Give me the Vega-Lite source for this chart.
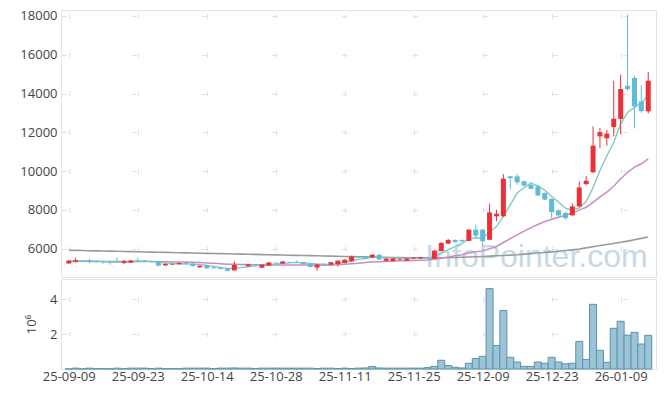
{
 "$schema": "https://vega.github.io/schema/vega-lite/v6.json",
 "padding": {"left": 19, "top": 9, "right": 5, "bottom": 5},
 "spacing": 0,
 "config": {
  "font": "Open Sans",
  "view": {"stroke": "#e3e3e3"},
  "axis": {"labelFont": "Open Sans", "labelFontSize": 13, "labelColor": "#444444", "domain": false, "ticks": false, "gridColor": "#e0e0e0", "titleFont": "Open Sans", "titleColor": "#444444", "titleFontWeight": "normal", "titleFontSize": 13}
 },
 "datasets": {
  "k": [
   {"i":0,"d":"2025-09-09","o":5240,"h":5420,"l":5200,"c":5380,"v":0.01,"m5":5356,"m20":5342,"m120":5920},
   {"i":1,"d":"2025-09-10","o":5320,"h":5540,"l":5300,"c":5400,"v":0.05,"m5":5366,"m20":5345,"m120":5912},
   {"i":2,"d":"2025-09-11","o":5380,"h":5400,"l":5330,"c":5350,"v":0.01,"m5":5366,"m20":5346,"m120":5904},
   {"i":3,"d":"2025-09-12","o":5400,"h":5480,"l":5240,"c":5330,"v":0.05,"m5":5362,"m20":5345,"m120":5896},
   {"i":4,"d":"2025-09-15","o":5360,"h":5380,"l":5300,"c":5320,"v":0.02,"m5":5356,"m20":5344,"m120":5888},
   {"i":5,"d":"2025-09-16","o":5330,"h":5350,"l":5230,"c":5300,"v":0.02,"m5":5340,"m20":5342,"m120":5880},
   {"i":6,"d":"2025-09-17","o":5330,"h":5360,"l":5180,"c":5280,"v":0.01,"m5":5316,"m20":5339,"m120":5872},
   {"i":7,"d":"2025-09-18","o":5340,"h":5540,"l":5280,"c":5320,"v":0.05,"m5":5310,"m20":5338,"m120":5864},
   {"i":8,"d":"2025-09-19","o":5270,"h":5420,"l":5210,"c":5360,"v":0.02,"m5":5316,"m20":5339,"m120":5856},
   {"i":9,"d":"2025-09-22","o":5280,"h":5410,"l":5260,"c":5390,"v":0.05,"m5":5330,"m20":5342,"m120":5848},
   {"i":10,"d":"2025-09-23","o":5400,"h":5540,"l":5340,"c":5360,"v":0.05,"m5":5342,"m20":5343,"m120":5840},
   {"i":11,"d":"2025-09-24","o":5380,"h":5400,"l":5300,"c":5320,"v":0.05,"m5":5350,"m20":5342,"m120":5832},
   {"i":12,"d":"2025-09-25","o":5330,"h":5350,"l":5290,"c":5310,"v":0.02,"m5":5348,"m20":5340,"m120":5824},
   {"i":13,"d":"2025-09-26","o":5310,"h":5330,"l":5100,"c":5120,"v":0.05,"m5":5300,"m20":5329,"m120":5816},
   {"i":14,"d":"2025-09-29","o":5140,"h":5240,"l":5100,"c":5220,"v":0.02,"m5":5266,"m20":5323,"m120":5808},
   {"i":15,"d":"2025-09-30","o":5180,"h":5230,"l":5170,"c":5210,"v":0.02,"m5":5236,"m20":5317,"m120":5800},
   {"i":16,"d":"2025-10-01","o":5200,"h":5290,"l":5180,"c":5260,"v":0.01,"m5":5224,"m20":5313,"m120":5792},
   {"i":17,"d":"2025-10-02","o":5280,"h":5300,"l":5200,"c":5220,"v":0.05,"m5":5206,"m20":5307,"m120":5784},
   {"i":18,"d":"2025-10-10","o":5230,"h":5250,"l":5080,"c":5100,"v":0.05,"m5":5202,"m20":5295,"m120":5776},
   {"i":19,"d":"2025-10-13","o":5040,"h":5150,"l":5020,"c":5120,"v":0.05,"m5":5182,"m20":5284,"m120":5768},
   {"i":20,"d":"2025-10-14","o":5150,"h":5170,"l":4970,"c":4990,"v":0.05,"m5":5138,"m20":5264,"m120":5760},
   {"i":21,"d":"2025-10-15","o":5030,"h":5060,"l":4950,"c":4990,"v":0.02,"m5":5084,"m20":5244,"m120":5752},
   {"i":22,"d":"2025-10-16","o":5000,"h":5020,"l":4920,"c":4960,"v":0.05,"m5":5032,"m20":5224,"m120":5744},
   {"i":23,"d":"2025-10-17","o":4970,"h":4990,"l":4830,"c":4860,"v":0.05,"m5":4984,"m20":5201,"m120":5736},
   {"i":24,"d":"2025-10-20","o":4880,"h":5350,"l":4870,"c":5160,"v":0.06,"m5":4992,"m20":5193,"m120":5728},
   {"i":25,"d":"2025-10-21","o":5180,"h":5200,"l":5130,"c":5160,"v":0.05,"m5":5026,"m20":5186,"m120":5720},
   {"i":26,"d":"2025-10-22","o":5100,"h":5210,"l":5080,"c":5190,"v":0.05,"m5":5066,"m20":5181,"m120":5712},
   {"i":27,"d":"2025-10-23","o":5180,"h":5200,"l":5120,"c":5150,"v":0.03,"m5":5104,"m20":5173,"m120":5704},
   {"i":28,"d":"2025-10-24","o":5020,"h":5200,"l":5000,"c":5180,"v":0.05,"m5":5168,"m20":5164,"m120":5696},
   {"i":29,"d":"2025-10-27","o":5130,"h":5310,"l":5110,"c":5290,"v":0.05,"m5":5194,"m20":5159,"m120":5688},
   {"i":30,"d":"2025-10-28","o":5280,"h":5300,"l":5230,"c":5250,"v":0.05,"m5":5212,"m20":5153,"m120":5680},
   {"i":31,"d":"2025-10-29","o":5230,"h":5360,"l":5220,"c":5340,"v":0.05,"m5":5242,"m20":5154,"m120":5672},
   {"i":32,"d":"2025-10-30","o":5310,"h":5340,"l":5270,"c":5290,"v":0.05,"m5":5270,"m20":5153,"m120":5664},
   {"i":33,"d":"2025-10-31","o":5320,"h":5380,"l":5290,"c":5310,"v":0.05,"m5":5296,"m20":5163,"m120":5656},
   {"i":34,"d":"2025-11-03","o":5300,"h":5320,"l":5180,"c":5200,"v":0.05,"m5":5278,"m20":5162,"m120":5648},
   {"i":35,"d":"2025-11-04","o":5230,"h":5240,"l":5040,"c":5060,"v":0.05,"m5":5240,"m20":5154,"m120":5640},
   {"i":36,"d":"2025-11-05","o":5030,"h":5210,"l":4860,"c":5190,"v":0.03,"m5":5210,"m20":5151,"m120":5632},
   {"i":37,"d":"2025-11-06","o":5220,"h":5240,"l":5170,"c":5190,"v":0.05,"m5":5190,"m20":5149,"m120":5624},
   {"i":38,"d":"2025-11-07","o":5170,"h":5320,"l":5150,"c":5300,"v":0.05,"m5":5188,"m20":5159,"m120":5616},
   {"i":39,"d":"2025-11-10","o":5210,"h":5400,"l":5090,"c":5380,"v":0.02,"m5":5224,"m20":5172,"m120":5608},
   {"i":40,"d":"2025-11-11","o":5260,"h":5460,"l":5240,"c":5430,"v":0.05,"m5":5298,"m20":5194,"m120":5600},
   {"i":41,"d":"2025-11-12","o":5350,"h":5640,"l":5330,"c":5600,"v":0.03,"m5":5380,"m20":5225,"m120":5592},
   {"i":42,"d":"2025-11-13","o":5570,"h":5600,"l":5520,"c":5540,"v":0.05,"m5":5450,"m20":5254,"m120":5584},
   {"i":43,"d":"2025-11-14","o":5620,"h":5640,"l":5500,"c":5520,"v":0.06,"m5":5494,"m20":5287,"m120":5576},
   {"i":44,"d":"2025-11-17","o":5550,"h":5720,"l":5530,"c":5690,"v":0.14,"m5":5556,"m20":5313,"m120":5568},
   {"i":45,"d":"2025-11-18","o":5690,"h":5700,"l":5420,"c":5440,"v":0.06,"m5":5558,"m20":5327,"m120":5560},
   {"i":46,"d":"2025-11-19","o":5370,"h":5530,"l":5350,"c":5480,"v":0.05,"m5":5534,"m20":5342,"m120":5552},
   {"i":47,"d":"2025-11-20","o":5360,"h":5520,"l":5330,"c":5500,"v":0.05,"m5":5526,"m20":5359,"m120":5546},
   {"i":48,"d":"2025-11-21","o":5430,"h":5500,"l":5410,"c":5460,"v":0.05,"m5":5514,"m20":5373,"m120":5540},
   {"i":49,"d":"2025-11-24","o":5390,"h":5510,"l":5370,"c":5480,"v":0.05,"m5":5472,"m20":5383,"m120":5535},
   {"i":50,"d":"2025-11-25","o":5500,"h":5580,"l":5480,"c":5540,"v":0.05,"m5":5492,"m20":5397,"m120":5530},
   {"i":51,"d":"2025-11-26","o":5500,"h":5580,"l":5480,"c":5560,"v":0.05,"m5":5508,"m20":5408,"m120":5527},
   {"i":52,"d":"2025-11-27","o":5560,"h":5580,"l":5500,"c":5520,"v":0.08,"m5":5512,"m20":5420,"m120":5525},
   {"i":53,"d":"2025-11-28","o":5480,"h":5930,"l":5460,"c":5900,"v":0.15,"m5":5600,"m20":5449,"m120":5525},
   {"i":54,"d":"2025-12-01","o":5880,"h":6330,"l":5860,"c":6300,"v":0.5,"m5":5764,"m20":5504,"m120":5530},
   {"i":55,"d":"2025-12-02","o":6260,"h":6500,"l":6240,"c":6450,"v":0.2,"m5":5946,"m20":5574,"m120":5535},
   {"i":56,"d":"2025-12-03","o":6450,"h":6480,"l":6300,"c":6340,"v":0.1,"m5":6102,"m20":5631,"m120":5545},
   {"i":57,"d":"2025-12-04","o":6450,"h":6470,"l":6350,"c":6380,"v":0.06,"m5":6274,"m20":5691,"m120":5555},
   {"i":58,"d":"2025-12-05","o":6400,"h":7000,"l":6380,"c":6980,"v":0.33,"m5":6490,"m20":5775,"m120":5570},
   {"i":59,"d":"2025-12-08","o":6980,"h":7240,"l":6550,"c":6670,"v":0.6,"m5":6564,"m20":5839,"m120":5585},
   {"i":60,"d":"2025-12-09","o":6980,"h":7030,"l":6150,"c":6380,"v":0.73,"m5":6550,"m20":5887,"m120":5600},
   {"i":61,"d":"2025-12-10","o":6460,"h":8320,"l":6430,"c":7870,"v":4.6,"m5":6856,"m20":6000,"m120":5615},
   {"i":62,"d":"2025-12-11","o":7670,"h":8010,"l":7410,"c":7800,"v":1.35,"m5":7140,"m20":6113,"m120":5632},
   {"i":63,"d":"2025-12-12","o":7670,"h":9850,"l":7650,"c":9610,"v":3.35,"m5":7666,"m20":6318,"m120":5650},
   {"i":64,"d":"2025-12-15","o":9730,"h":9760,"l":9050,"c":9640,"v":0.67,"m5":8260,"m20":6515,"m120":5670},
   {"i":65,"d":"2025-12-16","o":9730,"h":9850,"l":9300,"c":9420,"v":0.4,"m5":8868,"m20":6714,"m120":5690},
   {"i":66,"d":"2025-12-17","o":9470,"h":9520,"l":9210,"c":9250,"v":0.15,"m5":9144,"m20":6903,"m120":5718},
   {"i":67,"d":"2025-12-18","o":9300,"h":9330,"l":9050,"c":9090,"v":0.15,"m5":9402,"m20":7082,"m120":5746},
   {"i":68,"d":"2025-12-19","o":9210,"h":9300,"l":8700,"c":8750,"v":0.4,"m5":9230,"m20":7247,"m120":5774},
   {"i":69,"d":"2025-12-22","o":8870,"h":8900,"l":8500,"c":8530,"v":0.33,"m5":9008,"m20":7399,"m120":5805},
   {"i":70,"d":"2025-12-23","o":8560,"h":8600,"l":7550,"c":7890,"v":0.67,"m5":8702,"m20":7517,"m120":5836},
   {"i":71,"d":"2025-12-24","o":7970,"h":8030,"l":7650,"c":7720,"v":0.4,"m5":8396,"m20":7625,"m120":5870},
   {"i":72,"d":"2025-12-26","o":7840,"h":7900,"l":7500,"c":7580,"v":0.3,"m5":8094,"m20":7728,"m120":5905},
   {"i":73,"d":"2025-12-29","o":7720,"h":8330,"l":7700,"c":8180,"v":0.33,"m5":7980,"m20":7842,"m120":5940},
   {"i":74,"d":"2025-12-30","o":8180,"h":9450,"l":8160,"c":9160,"v":1.58,"m5":8106,"m20":7985,"m120":5980},
   {"i":75,"d":"2026-01-02","o":9330,"h":9740,"l":9280,"c":9500,"v":0.55,"m5":8428,"m20":8137,"m120":6040},
   {"i":76,"d":"2026-01-05","o":9940,"h":12300,"l":9900,"c":11310,"v":3.7,"m5":9146,"m20":8386,"m120":6100},
   {"i":77,"d":"2026-01-06","o":11790,"h":12220,"l":11190,"c":12010,"v":1.07,"m5":10032,"m20":8667,"m120":6160},
   {"i":78,"d":"2026-01-07","o":11690,"h":12130,"l":11310,"c":11930,"v":0.38,"m5":10782,"m20":8915,"m120":6215},
   {"i":79,"d":"2026-01-08","o":12270,"h":14660,"l":11790,"c":12700,"v":2.33,"m5":11490,"m20":9216,"m120":6270},
   {"i":80,"d":"2026-01-09","o":12690,"h":14970,"l":11900,"c":14230,"v":2.73,"m5":12436,"m20":9609,"m120":6330},
   {"i":81,"d":"2026-01-12","o":14400,"h":18060,"l":14140,"c":14230,"v":1.93,"m5":13020,"m20":9927,"m120":6390},
   {"i":82,"d":"2026-01-13","o":14800,"h":14920,"l":12200,"c":13340,"v":2.1,"m5":13286,"m20":10204,"m120":6460},
   {"i":83,"d":"2026-01-14","o":13600,"h":14420,"l":13000,"c":13090,"v":1.43,"m5":13518,"m20":10378,"m120":6530},
   {"i":84,"d":"2026-01-15","o":13080,"h":15110,"l":12970,"c":14660,"v":1.93,"m5":13910,"m20":10628,"m120":6600}
  ]
 },
 "vconcat": [
  {
   "width": 595,
   "height": 267,
   "data": {"name": "k"},
   "layer": [
    {
     "data": {"values": [{"t": "InfoPointer.com"}]},
     "mark": {"type": "text", "fontSize": 32, "font": "Liberation Sans", "fill": "#b3cddb", "opacity": 0.75, "align": "center", "baseline": "alphabetic"},
     "encoding": {
      "text": {"field": "t"},
      "x": {"datum": 67.8, "type": "quantitative", "scale": {"domain": [-0.4, 84.4], "nice": false, "zero": false}, "axis": {"title": null, "labels": false, "grid": true, "values": [0,10,20,30,40,50,60,70,80], "gridDash": [5, 33.79], "gridDashOffset": 35.39}},
      "y": {"datum": 5031, "type": "quantitative", "scale": {"domain": [4540, 18305], "nice": false, "zero": false}, "axis": {"title": null, "format": "d", "values": [6000,8000,10000,12000,14000,16000,18000], "grid": true, "labelPadding": 4, "gridDash": [5, 65.17], "gridDashOffset": 69.86}}
     }
    },
    {
     "mark": {"type": "line", "color": "#9a9a9a", "strokeWidth": 1.6},
     "encoding": {
      "x": {"field": "i", "type": "quantitative", "scale": {"domain": [-0.4, 84.4], "nice": false, "zero": false}, "axis": {"title": null, "labels": false, "grid": true, "values": [0,10,20,30,40,50,60,70,80], "gridDash": [5, 33.79], "gridDashOffset": 35.39}},
      "y": {"field": "m120", "type": "quantitative", "scale": {"domain": [4540, 18305], "nice": false, "zero": false}, "axis": {"title": null, "format": "d", "values": [6000,8000,10000,12000,14000,16000,18000], "grid": true, "labelPadding": 4, "gridDash": [5, 65.17], "gridDashOffset": 69.86}}
     }
    },
    {
     "mark": {"type": "line", "color": "#c98cc6", "strokeWidth": 1.5},
     "encoding": {
      "x": {"field": "i", "type": "quantitative", "scale": {"domain": [-0.4, 84.4], "nice": false, "zero": false}, "axis": {"title": null, "labels": false, "grid": true, "values": [0,10,20,30,40,50,60,70,80], "gridDash": [5, 33.79], "gridDashOffset": 35.39}},
      "y": {"field": "m20", "type": "quantitative", "scale": {"domain": [4540, 18305], "nice": false, "zero": false}, "axis": {"title": null, "format": "d", "values": [6000,8000,10000,12000,14000,16000,18000], "grid": true, "labelPadding": 4, "gridDash": [5, 65.17], "gridDashOffset": 69.86}}
     }
    },
    {
     "mark": {"type": "line", "color": "#84c9c0", "strokeWidth": 1.4},
     "encoding": {
      "x": {"field": "i", "type": "quantitative", "scale": {"domain": [-0.4, 84.4], "nice": false, "zero": false}, "axis": {"title": null, "labels": false, "grid": true, "values": [0,10,20,30,40,50,60,70,80], "gridDash": [5, 33.79], "gridDashOffset": 35.39}},
      "y": {"field": "m5", "type": "quantitative", "scale": {"domain": [4540, 18305], "nice": false, "zero": false}, "axis": {"title": null, "format": "d", "values": [6000,8000,10000,12000,14000,16000,18000], "grid": true, "labelPadding": 4, "gridDash": [5, 65.17], "gridDashOffset": 69.86}}
     }
    },
    {
     "mark": {"type": "rule", "strokeWidth": 1},
     "encoding": {
      "x": {"field": "i", "type": "quantitative", "scale": {"domain": [-0.4, 84.4], "nice": false, "zero": false}, "axis": {"title": null, "labels": false, "grid": true, "values": [0,10,20,30,40,50,60,70,80], "gridDash": [5, 33.79], "gridDashOffset": 35.39}},
      "y": {"field": "l", "type": "quantitative", "scale": {"domain": [4540, 18305], "nice": false, "zero": false}, "axis": {"title": null, "format": "d", "values": [6000,8000,10000,12000,14000,16000,18000], "grid": true, "labelPadding": 4, "gridDash": [5, 65.17], "gridDashOffset": 69.86}},
      "y2": {"field": "h"},
      "color": {"condition": {"test": "datum.c >= datum.o", "value": "#ec3038"}, "value": "#5dbbd6"}
     }
    },
    {
     "mark": {"type": "bar", "size": 5},
     "encoding": {
      "x": {"field": "i", "type": "quantitative", "scale": {"domain": [-0.4, 84.4], "nice": false, "zero": false}, "axis": {"title": null, "labels": false, "grid": true, "values": [0,10,20,30,40,50,60,70,80], "gridDash": [5, 33.79], "gridDashOffset": 35.39}},
      "y": {"field": "o", "type": "quantitative", "scale": {"domain": [4540, 18305], "nice": false, "zero": false}, "axis": {"title": null, "format": "d", "values": [6000,8000,10000,12000,14000,16000,18000], "grid": true, "labelPadding": 4, "gridDash": [5, 65.17], "gridDashOffset": 69.86}},
      "y2": {"field": "c"},
      "color": {"condition": {"test": "datum.c >= datum.o", "value": "#ec3038"}, "value": "#5dbbd6"}
     }
    }
   ]
  },
  {
   "width": 595,
   "height": 90,
   "data": {"name": "k"},
   "mark": {"type": "bar", "size": 7, "fill": "#9cc3d6", "stroke": "#5a93ae", "strokeWidth": 1},
   "encoding": {
    "x": {"field": "i", "type": "quantitative", "scale": {"domain": [-0.4, 84.4], "nice": false, "zero": false}, "axis": {"title": null, "values": [0,10,20,30,40,50,60,70,80], "labelExpr": "['25-09-09','25-09-23','25-10-14','25-10-28','25-11-11','25-11-25','25-12-09','25-12-23','26-01-09'][round(datum.value/10)]", "labelPadding": 1, "grid": true, "gridDash": [5, 29.95], "gridDashOffset": 17.35}},
    "y": {"field": "v", "type": "quantitative", "scale": {"domain": [0, 5.15], "nice": false}, "axis": {"title": "10⁶", "values": [2, 4], "grid": true, "labelPadding": 4, "titlePadding": 11, "gridDash": [5, 65.17], "gridDashOffset": 69.86}}
   }
  }
 ]
}
